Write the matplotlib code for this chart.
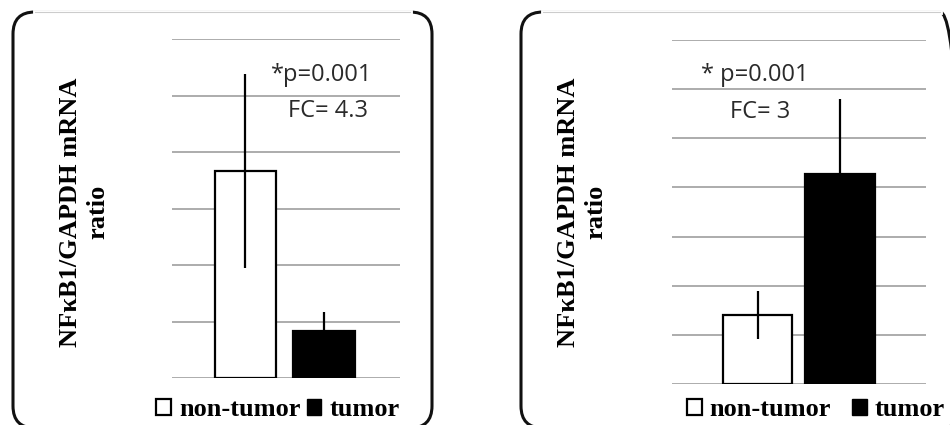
import numpy as np
import matplotlib
matplotlib.use("Agg")
import matplotlib.pyplot as plt
from matplotlib.patches import FancyBboxPatch, Patch

groups = ["non-tumor", "tumor"]

# left panel (arbitrary units, gridlines every 1)
left_means = [3.66, 0.83]
left_err = [1.72, 0.34]
left_notes = ["*p=0.001", "FC= 4.3"]

# right panel
right_means = [1.40, 4.28]
right_err = [0.49, 1.52]
right_notes = ["* p=0.001", "FC= 3"]

ylabel = "NFκB1/GAPDH mRNA\nratio"

W, H = 950, 425
fig = plt.figure(figsize=(W / 100, H / 100), dpi=100)


def px_box(x0, y0, x1, y1):
    # pixel box (top-left origin) -> figure fraction rect
    return [x0 / W, 1 - y1 / H, (x1 - x0) / W, (y1 - y0) / H]


def panel_frame(x0, y0, x1, y1, r=22):
    box = FancyBboxPatch((x0 / W, 1 - y1 / H), (x1 - x0) / W, (y1 - y0) / H,
                         boxstyle=f"round,pad=0,rounding_size={r / W}",
                         transform=fig.transFigure, fill=False,
                         edgecolor="#111111", linewidth=2.2,
                         mutation_aspect=W / H)
    fig.add_artist(box)
    # top edge is faint in the original
    fig.add_artist(plt.Line2D([(x0 + r) / W, (x1 - r) / W], [1 - y0 / H] * 2,
                              transform=fig.transFigure, color="white", lw=3.5))
    fig.add_artist(plt.Line2D([(x0 + r) / W, (x1 - r) / W], [1 - y0 / H] * 2,
                              transform=fig.transFigure, color="#cccccc", lw=0.8))


def draw_panel(rect, means, err, notes, ymax, xlim, width, note_pos, label_xy, leg_xy, colspace):
    ax = fig.add_axes(rect)
    x = np.arange(len(groups))
    ax.bar(x, means, width=width, color=["white", "black"], edgecolor="black",
           linewidth=1.6, zorder=2)
    ax.errorbar(x, means, yerr=err, fmt="none", ecolor="black", elinewidth=1.6,
                capsize=0, zorder=3)
    ax.set_ylim(0, ymax)
    ax.set_xlim(*xlim)
    ax.set_yticks(np.arange(0, ymax + 0.5, 1))
    ax.grid(axis="y", color="#a6a6a6", linewidth=1.3, zorder=0)
    ax.set_axisbelow(True)
    ax.tick_params(left=False, bottom=False, labelleft=False, labelbottom=False)
    for s in ax.spines.values():
        s.set_visible(False)
    for txt, (tx, ty) in zip(notes, note_pos):
        ax.text(tx, ty, txt, ha="center", va="center", fontsize=17,
                family="Open Sans", color="#2a2a2a")
    ax.set_ylabel(ylabel, family="Liberation Serif", fontweight="bold",
                  fontsize=19, linespacing=1.25, va="center")
    ax.yaxis.set_label_coords(*label_xy)
    handles = [Patch(facecolor="white", edgecolor="black", linewidth=1.6),
               Patch(facecolor="black", edgecolor="black")]
    fig.legend(handles, groups, loc="center", bbox_to_anchor=leg_xy,
               ncol=2, frameon=False, handlelength=0.55, handleheight=0.55,
               handletextpad=0.3, columnspacing=colspace,
               prop={"family": "Liberation Serif", "weight": "bold", "size": 19})
    return ax


panel_frame(13, 12, 432, 428)
panel_frame(521, 12, 962, 428)

draw_panel(px_box(172, 39, 400, 378), left_means, left_err, left_notes, 6,
           (-0.936, 1.968), 0.78, [(0.975, 5.36), (1.05, 4.73)],
           (-0.386, 0.49), (278 / W, 1 - 410 / H), 0.25)
draw_panel(px_box(672, 40, 926, 384), right_means, right_err, right_notes, 7,
           (-1.036, 2.04), 0.84, [(-0.03, 6.29), (0.03, 5.54)],
           (-0.354, 0.5), (816 / W, 1 - 410 / H), 0.8)

fig.savefig("out.png", dpi=100)
